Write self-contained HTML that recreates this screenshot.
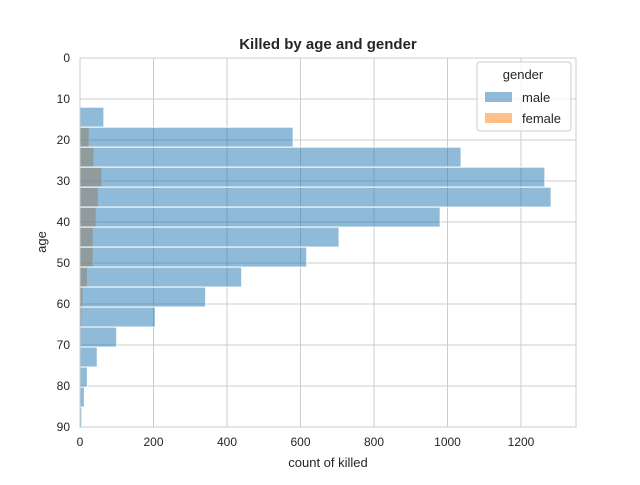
<!DOCTYPE html>
<html><head><meta charset="utf-8"><style>
body{margin:0;background:#fff;font-family:"Liberation Sans",sans-serif}
svg text{font-family:"Liberation Sans",sans-serif;fill:#262626}
</style></head><body>
<svg width="640" height="480">
<g id="grid"></g>
<g id="bars"></g>
<g id="ticks"></g>
<rect x="80" y="58" width="496" height="369" fill="none" stroke="#ccc" stroke-width="1"/>
<text x="328" y="49" text-anchor="middle" font-size="15" font-weight="bold">Killed by age and gender</text>
<text x="328" y="467" text-anchor="middle" font-size="13">count of killed</text>
<text x="46" y="242" text-anchor="middle" font-size="13" transform="rotate(-90 46 242)">age</text>
<g>
<rect x="477" y="62" width="94" height="69" rx="3" fill="#fff" fill-opacity="0.8" stroke="#ccc"/>
<text x="523" y="79" text-anchor="middle" font-size="13">gender</text>
<rect x="485" y="92" width="27" height="10" fill="#1f77b4" fill-opacity="0.5"/>
<text x="522" y="102" font-size="13">male</text>
<rect x="485" y="113" width="27" height="10" fill="#ff7f0e" fill-opacity="0.5"/>
<text x="522" y="123" font-size="13">female</text>
</g>
</svg>
<script>
const binStarts=[12,16.875,21.75,26.625,31.5,36.375,41.25,46.125,51,55.875,60.75,65.625,70.5,75.375,80.25,85.125];
const binWidth=4.875;
const maleCounts=[65,580,1037,1265,1282,980,705,617,440,342,205,100,47,20,12,5];
const femaleCounts=[0,25,38,60,50,44,36,36,20,8,5,3,1,0,0,0];
const xTicks=[0,200,400,600,800,1000,1200];
const yTicks=[0,10,20,30,40,50,60,70,80,90];
const X=v=>80+v*0.3675, Y=a=>58+a*4.1;
const NS="http://www.w3.org/2000/svg";
function mk(tag,attrs,parent){const e=document.createElementNS(NS,tag);for(const k in attrs)e.setAttribute(k,attrs[k]);parent.appendChild(e);return e;}
const grid=document.getElementById('grid'),bars=document.getElementById('bars'),ticks=document.getElementById('ticks');
xTicks.forEach(t=>{
 const l=mk('line',{x1:X(t),x2:X(t),y1:58,y2:427,stroke:'#ccc'},grid);
 
 
 const tx=mk('text',{x:X(t),y:446,'text-anchor':'middle','font-size':'12'},ticks);
 tx.textContent=t;
 
 
});
yTicks.forEach(t=>{
 const l=mk('line',{x1:80,x2:576,y1:Y(t),y2:Y(t),stroke:'#ccc'},grid);
 
 
 const tx=mk('text',{x:70,y:Y(t)+4,'text-anchor':'end','font-size':'12'},ticks);
 tx.textContent=t;
 
 
});
binStarts.forEach((a,i)=>{
 const y=Y(a),h=binWidth*4.1;
 if(femaleCounts[i]>0){
  const f=mk('rect',{x:80,y:y,width:X(femaleCounts[i])-80,height:h,fill:'#ff7f0e','fill-opacity':0.5,stroke:'#fff','stroke-width':1},bars);
  
  
 }
});
binStarts.forEach((a,i)=>{
 const y=Y(a),h=binWidth*4.1;
 const m=mk('rect',{x:80,y:y,width:X(maleCounts[i])-80,height:h,fill:'#1f77b4','fill-opacity':0.5,stroke:'#fff','stroke-width':1},bars);
 
 
});
</script>
</body></html>
